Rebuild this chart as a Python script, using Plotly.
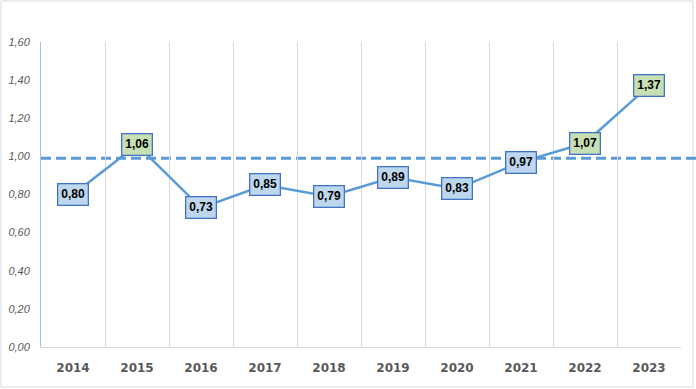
import plotly.graph_objects as go

years = ["2014", "2015", "2016", "2017", "2018", "2019", "2020", "2021", "2022", "2023"]
values = [0.80, 1.06, 0.73, 0.85, 0.79, 0.89, 0.83, 0.97, 1.07, 1.37]
reference_level = 0.99
y_ticks = [0, 0.2, 0.4, 0.6, 0.8, 1.0, 1.2, 1.4, 1.6]

LINE = "#5B9BD5"
BLUE_FILL = "#BDD7EE"
GREEN_FILL = "#C6E0B4"
BOX_BORDER = "#4472C4"

fig = go.Figure()
fig.add_trace(go.Scatter(
    x=years, y=values, mode="lines",
    line=dict(color=LINE, width=2.5),
    hoverinfo="skip", showlegend=False,
))

# category axis: annotation x uses the category serial number
for i, v in enumerate(values):
    fig.add_annotation(
        x=i, y=v, xref="x", yref="y", showarrow=False,
        text="<b>" + f"{v:.2f}".replace(".", ",") + "</b>",
        font=dict(family="Liberation Sans, Arial", size=12, color="#000000"),
        bgcolor=GREEN_FILL if v > 1 else BLUE_FILL,
        bordercolor=BOX_BORDER, borderwidth=1.3, borderpad=3,
    )

# outer chart border
fig.add_shape(type="rect", xref="paper", yref="paper",
              x0=-40 / 640, x1=652 / 640, y0=-40 / 305, y1=346 / 305,
              line=dict(color="#D9D9D9", width=1), fillcolor="rgba(0,0,0,0)", layer="below")
# reference dashed line
fig.add_shape(type="line", xref="paper", yref="y",
              x0=0, x1=655 / 640, y0=reference_level, y1=reference_level,
              line=dict(color=LINE, width=3, dash="10px,5px"), layer="below")

fig.update_layout(
    width=696, height=389,
    margin=dict(l=41, r=15, t=42, b=42, autoexpand=False),
    paper_bgcolor="white", plot_bgcolor="white",
    separators=",.",
    showlegend=False,
    xaxis=dict(
        type="category", tickson="boundaries",
        showgrid=True, gridcolor="#D9D9D9", gridwidth=1,
        showline=True, linecolor="#D9D9D9", linewidth=1,
        ticks="", ticklen=0, ticklabelstandoff=10,
        tickfont=dict(family="DejaVu Sans", size=12, color="#595959", weight="bold"),
        range=[-0.5, 9.5], fixedrange=True,
    ),
    yaxis=dict(
        range=[0, 1.6], tickvals=y_ticks, tickformat=".2f",
        showgrid=False, zeroline=False,
        showline=True, linecolor="#9DC3E6", linewidth=1,
        ticks="", ticklabelstandoff=8,
        tickfont=dict(family="Liberation Sans, Arial", size=11, color="#595959", style="italic"),
        fixedrange=True,
    ),
)

fig.write_html("out.html", config={"displayModeBar": False},
               post_script="document.body.style.margin='0';")
